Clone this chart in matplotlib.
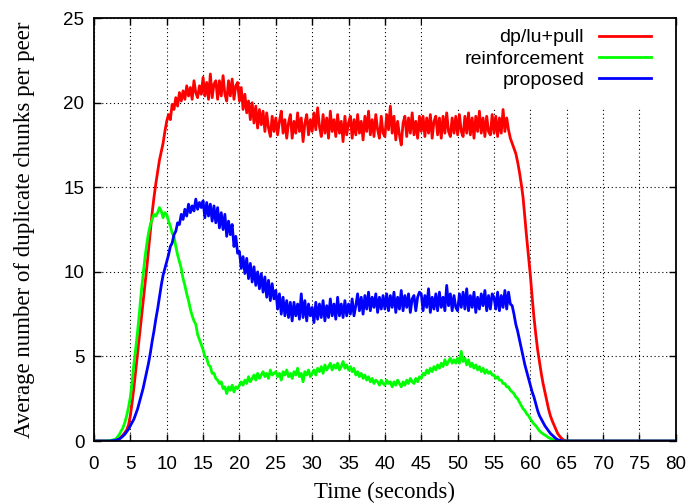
import numpy as np
import matplotlib.pyplot as plt
from matplotlib.patches import Rectangle

# time axis (seconds), sampled every 0.25 s
t = np.arange(0, 80.25, 0.25)

# average duplicate chunks per peer, t = 0 .. 65 s (zero afterwards)
dp_lu_pull = [
    0.0, 0.0, 0.0, 0.0, 0.0, 0.0, 0.0, 0.0, 0.0, 0.0, 0.02, 0.03, 0.05, 0.08, 0.15, 0.25, 0.35, 0.5, 0.65, 0.95,
    1.5, 2.3, 3.2, 4.2, 5.2, 6.2, 7.2, 8.2, 9.2, 10.2, 11.3, 12.4, 13.5, 14.4, 15.2, 15.9, 16.6, 17.1, 17.6, 18.3,
    18.9, 19.3, 19.0, 19.9, 19.6, 20.3, 19.8, 20.6, 20.1, 20.7, 20.2, 21.0, 20.4, 20.9, 20.2, 21.3, 20.6, 20.3, 21.0, 20.5,
    21.5, 20.4, 21.2, 20.2, 21.7, 20.3, 21.1, 21.3, 20.2, 21.3, 20.4, 21.6, 20.5, 20.1, 21.3, 20.4, 21.4, 20.2, 21.0, 21.2,
    20.1, 20.9, 19.6, 20.5, 19.4, 20.1, 19.0, 20.0, 18.8, 19.8, 18.5, 19.6, 18.7, 19.5, 18.3, 19.4, 18.5, 18.0, 19.2, 18.3,
    19.1, 18.1, 18.9, 19.5, 18.2, 19.0, 17.9, 18.8, 19.3, 17.9, 18.9, 18.2, 19.4, 18.3, 19.1, 17.7, 18.8, 19.3, 18.1, 19.0,
    18.3, 19.4, 18.4, 19.7, 18.6, 18.0, 19.3, 18.2, 19.1, 17.9, 19.5, 18.3, 19.0, 18.0, 19.3, 18.2, 18.9, 17.7, 19.2, 18.1,
    18.8, 19.2, 17.9, 19.0, 18.1, 19.3, 18.2, 18.9, 17.8, 19.2, 18.3, 19.5, 18.1, 19.0, 18.0, 19.3, 18.4, 17.9, 19.2, 18.2,
    18.0, 19.3, 18.4, 19.8, 18.2, 19.2, 17.8, 18.9, 18.1, 17.5, 18.8, 19.2, 18.0, 19.1, 18.2, 19.4, 18.1, 18.9, 17.9, 19.2,
    18.3, 19.2, 18.0, 19.1, 18.2, 19.3, 17.9, 18.9, 19.2, 18.1, 19.1, 17.9, 19.2, 18.2, 19.4, 18.3, 18.0, 19.1, 18.2, 19.2,
    18.1, 19.3, 18.3, 18.0, 19.2, 18.2, 19.4, 18.1, 19.1, 17.9, 19.2, 18.3, 19.5, 18.2, 19.1, 18.0, 19.2, 18.3, 18.1, 19.3,
    18.2, 19.2, 18.0, 19.1, 18.2, 19.6, 18.3, 19.1, 18.4, 17.9, 17.6, 17.3, 17.0, 16.5, 15.9, 15.2, 14.4, 13.2, 12.0, 10.9,
    9.8, 8.5, 7.3, 6.3, 5.4, 4.7, 4.0, 3.4, 2.9, 2.4, 1.9, 1.5, 1.2, 0.95, 0.7, 0.45, 0.3, 0.18, 0.08, 0.03,
    0.0,
]

reinforcement = [
    0.0, 0.0, 0.0, 0.0, 0.0, 0.0, 0.0, 0.0, 0.02, 0.03, 0.05, 0.08, 0.12, 0.25, 0.4, 0.6, 0.8, 1.1, 1.5, 2.0,
    2.6, 3.5, 4.6, 5.5, 6.5, 7.6, 8.8, 9.8, 10.8, 11.6, 12.3, 12.8, 13.1, 13.4, 13.3, 13.5, 13.8, 13.6, 13.2, 13.5,
    13.4, 13.0, 12.7, 12.3, 12.1, 11.5, 11.0, 10.6, 10.2, 9.6, 9.2, 8.7, 8.3, 7.8, 7.4, 7.1, 6.9, 6.3, 6.0, 5.7,
    5.4, 5.0, 4.9, 4.5, 4.4, 4.0, 4.0, 3.7, 3.6, 3.4, 3.5, 3.1, 3.2, 2.8, 3.2, 3.0, 3.3, 2.9, 3.2, 3.1,
    3.3, 3.5, 3.3, 3.6, 3.4, 3.8, 3.5, 3.7, 3.9, 3.6, 4.0, 3.7, 3.9, 4.1, 3.8, 4.0, 3.7, 4.2, 3.9, 4.0,
    4.1, 3.8, 4.0, 3.6, 4.1, 3.9, 4.2, 3.8, 4.0, 3.7, 4.1, 3.9, 4.3, 3.8, 4.0, 3.5, 4.1, 3.9, 4.2, 3.8,
    4.0, 4.2, 3.9, 4.3, 4.1, 4.4, 4.0, 4.5, 4.2, 4.4, 4.6, 4.2, 4.5, 4.3, 4.6, 4.2, 4.4, 4.7, 4.3, 4.5,
    4.2, 4.4, 4.1, 4.3, 3.9, 4.1, 3.8, 4.0, 3.7, 3.9, 3.6, 3.8, 3.5, 3.7, 3.4, 3.6, 3.5, 3.3, 3.6, 3.4,
    3.3, 3.6, 3.4, 3.5, 3.2, 3.5, 3.3, 3.6, 3.4, 3.2, 3.5, 3.3, 3.6, 3.4, 3.7, 3.5, 3.4, 3.7, 3.5, 3.8,
    3.7, 4.0, 3.9, 4.2, 4.0, 4.3, 4.1, 4.4, 4.2, 4.5, 4.3, 4.6, 4.4, 4.8, 4.5, 4.7, 4.9, 4.6, 4.8, 4.6,
    4.9, 4.6, 5.3, 4.7, 4.9, 4.5, 4.8, 4.4, 4.6, 4.3, 4.5, 4.2, 4.4, 4.1, 4.3, 4.0, 4.2, 4.0, 4.1, 3.9,
    3.9, 3.7, 3.8, 3.6, 3.6, 3.4, 3.4, 3.2, 3.2, 3.0, 2.9, 2.8, 2.6, 2.5, 2.3, 2.1, 1.9, 1.8, 1.6, 1.5,
    1.3, 1.15, 1.0, 0.9, 0.75, 0.6, 0.5, 0.42, 0.35, 0.28, 0.2, 0.15, 0.1, 0.07, 0.05, 0.03, 0.02, 0.01, 0.0, 0.0,
    0.0,
]

proposed = [
    0.0, 0.0, 0.0, 0.0, 0.0, 0.0, 0.0, 0.0, 0.0, 0.0, 0.02, 0.03, 0.05, 0.08, 0.12, 0.2, 0.3, 0.4, 0.55, 0.7,
    0.9, 1.1, 1.3, 1.6, 1.9, 2.3, 2.7, 3.1, 3.6, 4.1, 4.6, 5.2, 5.9, 6.5, 7.2, 7.8, 8.5, 9.2, 9.8, 10.2,
    10.6, 11.0, 11.5, 11.7, 12.2, 12.4, 12.9, 12.8, 13.4, 13.1, 13.7, 13.3, 14.0, 13.5, 13.9, 13.6, 14.3, 13.7, 14.1, 13.8,
    14.2, 13.2, 14.1, 13.3, 14.0, 13.0, 13.9, 12.9, 13.8, 12.6, 13.5, 12.5, 13.4, 12.1, 13.0, 12.2, 12.8, 11.5, 12.1, 11.1,
    11.2, 10.2, 10.9, 9.9, 10.8, 9.6, 10.5, 9.4, 10.3, 9.2, 10.0, 9.0, 9.9, 8.8, 9.7, 8.5, 9.5, 8.3, 9.3, 8.4,
    8.9, 7.8, 8.7, 7.5, 8.5, 7.4, 8.3, 7.3, 8.2, 7.1, 8.2, 7.4, 8.1, 7.2, 8.7, 7.3, 8.3, 7.1, 8.1, 7.4,
    7.9, 7.0, 8.2, 7.2, 8.1, 7.3, 8.3, 7.1, 8.0, 7.3, 8.4, 7.4, 8.1, 7.2, 8.5, 7.4, 8.1, 7.3, 8.3, 7.4,
    8.1, 7.5, 8.4, 7.4, 8.0, 8.7, 7.7, 8.5, 7.5, 8.6, 7.8, 8.8, 7.7, 8.5, 7.9, 8.7, 7.6, 8.5, 7.8, 8.6,
    7.8, 8.7, 7.7, 8.6, 7.9, 8.8, 7.6, 8.5, 7.8, 8.9, 7.7, 8.6, 7.9, 8.7, 7.6, 8.4, 8.6, 7.7, 8.5, 8.8,
    8.7, 7.7, 8.6, 7.9, 9.0, 7.6, 8.5, 7.8, 8.7, 7.7, 8.8, 7.9, 8.5, 7.7, 9.2, 8.0, 8.7, 7.7, 8.6, 7.9,
    7.7, 8.7, 7.9, 8.8, 7.8, 9.0, 7.7, 8.6, 7.9, 8.8, 7.6, 8.5, 7.8, 8.7, 8.0, 8.9, 7.7, 8.6, 7.8, 8.7,
    8.5, 7.8, 8.8, 7.7, 8.6, 7.9, 8.9, 7.8, 8.8, 8.1, 8.0, 7.5, 6.9, 6.5, 6.0, 5.5, 5.0, 4.5, 4.1, 3.7,
    3.3, 2.9, 2.6, 2.2, 1.8, 1.5, 1.3, 1.1, 0.9, 0.75, 0.6, 0.45, 0.35, 0.25, 0.15, 0.08, 0.05, 0.02, 0.0, 0.0,
    0.0,
]

tail = [0.0] * (len(t) - len(dp_lu_pull))
series = [
    ("dp/lu+pull", dp_lu_pull + tail, "#ff0000"),
    ("reinforcement", reinforcement + tail, "#00ff00"),
    ("proposed", proposed + tail, "#0000ff"),
]

fig = plt.figure(figsize=(6.91, 5.04), dpi=100)
ax = fig.add_axes([0.136, 0.125, 0.842, 0.839])

for name, vals, col in series:
    ax.plot(t, vals, color=col, lw=2.0, label=name, zorder=2)

ax.set_xlim(0, 80)
ax.set_ylim(0, 25)
ax.set_xticks(np.arange(0, 81, 5))
ax.set_yticks(np.arange(0, 26, 5))
ax.grid(True, color="black", linestyle=(0, (1, 2.5)), linewidth=0.8)

# opaque key area
ax.add_patch(Rectangle((0.564, 0.79), 0.436, 0.21, transform=ax.transAxes,
                       facecolor="white", edgecolor="none", zorder=1.8))

ax.tick_params(direction="in", length=5, width=1, top=True, right=True,
               labelsize=13.5)
ax.tick_params(axis="x", pad=11)
ax.tick_params(axis="y", pad=7)
for lab in ax.get_xticklabels() + ax.get_yticklabels():
    lab.set_family("Liberation Sans")
for sp in ax.spines.values():
    sp.set_linewidth(1.3)

ax.set_xlabel("Time (seconds)", family="Liberation Serif", fontsize=16.5, labelpad=6)
ax.set_ylabel("Average number of duplicate chunks per peer",
              family="Liberation Serif", fontsize=16.5, labelpad=20)

leg = ax.legend(loc="upper right", bbox_to_anchor=(0.971, 0.993),
                markerfirst=False, frameon=False, borderaxespad=0,
                prop={"family": "Liberation Sans", "size": 14},
                handlelength=2.7, handletextpad=0.75, labelspacing=0.18)
for txt in leg.get_texts():
    txt.set_ha("right")
leg._legend_box.align = "right"

fig.savefig("out.png", dpi=100)
